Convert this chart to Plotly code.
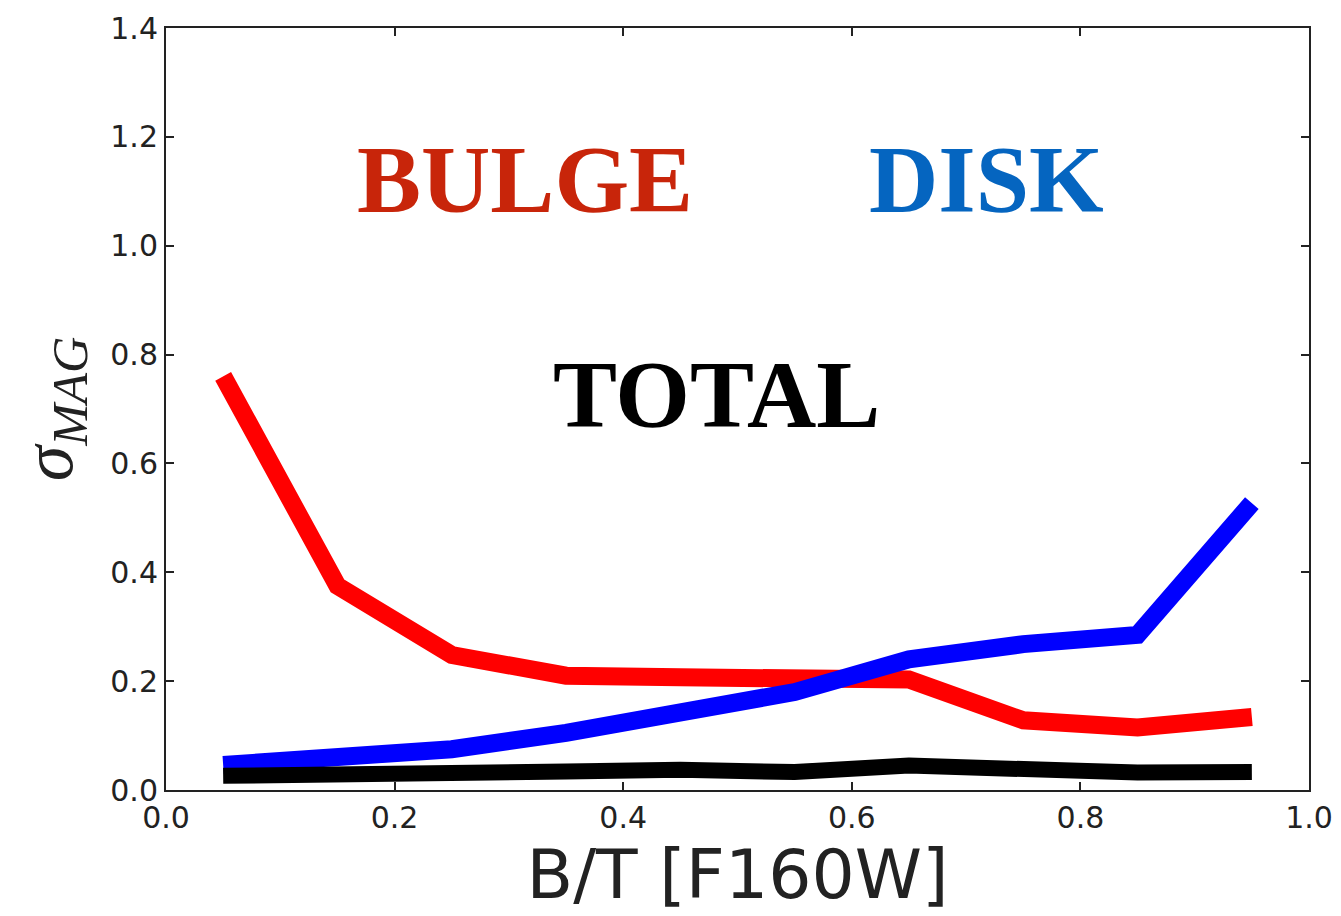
import plotly.graph_objects as go

bt = [0.05, 0.15, 0.25, 0.35, 0.45, 0.55, 0.65, 0.75, 0.85, 0.95]
bulge = [0.76, 0.375, 0.248, 0.21, 0.207, 0.207, 0.203, 0.128, 0.115, 0.134]
disk = [0.046, 0.06, 0.075, 0.105, 0.145, 0.18, 0.24, 0.268, 0.285, 0.527]
total = [0.026, 0.031, 0.033, 0.034, 0.037, 0.033, 0.045, 0.036, 0.032, 0.033]

xticks = [0.0, 0.2, 0.4, 0.6, 0.8, 1.0]
yticks = [0.0, 0.2, 0.4, 0.6, 0.8, 1.0, 1.2, 1.4]

fig = go.Figure()
fig.add_trace(go.Scatter(x=bt, y=bulge, mode="lines", line=dict(color="#ff0000", width=18), name="BULGE"))
fig.add_trace(go.Scatter(x=bt, y=disk, mode="lines", line=dict(color="#0000ff", width=18), name="DISK"))
fig.add_trace(go.Scatter(x=bt, y=total, mode="lines", line=dict(color="#000000", width=16), name="TOTAL"))

ann_font = "Liberation Serif, Times New Roman, serif"
fig.add_annotation(x=0.314, y=1.121, text="<b>BULGE</b>", showarrow=False,
                   font=dict(family=ann_font, size=96, color="#c8250a"))
fig.add_annotation(x=0.718, y=1.121, text="<b>DISK</b>", showarrow=False,
                   font=dict(family=ann_font, size=96, color="#0565c0"))
fig.add_annotation(x=0.482, y=0.726, text="<b>TOTAL</b>", showarrow=False,
                   font=dict(family=ann_font, size=96, color="#000000"))

axis_common = dict(
    showgrid=False, zeroline=False, showline=True, linecolor="#222222", linewidth=2,
    mirror="ticks", ticks="inside", ticklen=8, tickwidth=1.5, tickcolor="#222222",
    tickfont=dict(family="DejaVu Sans", size=30, color="#222222"),
    automargin=False,
)

fig.update_xaxes(range=[0, 1], tickvals=xticks, ticktext=[f"{v:.1f}" for v in xticks],
                 title=dict(text="B/T [F160W]", font=dict(family="DejaVu Sans", size=68, color="#222222"), standoff=16),
                 **axis_common)
fig.update_yaxes(range=[0, 1.4], tickvals=yticks, ticktext=[f"{v:.1f}" for v in yticks],
                 title=dict(text="<i>σ</i><sub><i>MAG</i></sub>", font=dict(family="Liberation Serif, serif", size=72, color="#222222"), standoff=20),
                 **axis_common)

fig.update_layout(
    width=1333, height=908,
    margin=dict(l=158, r=32, t=20, b=126),
    plot_bgcolor="white", paper_bgcolor="white",
    showlegend=False,
)

fig.write_html("out.html")
